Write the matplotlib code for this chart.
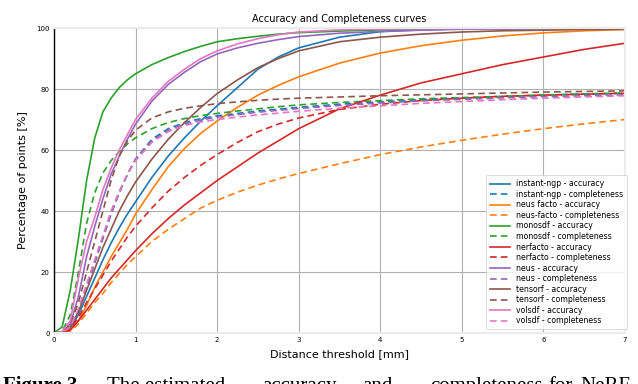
import matplotlib
matplotlib.use("Agg")
import matplotlib.pyplot as plt

# ---------------- data ----------------
thresholds = [0, 0.1, 0.2, 0.3, 0.4, 0.5, 0.6, 0.7, 0.8, 0.9, 1.0, 1.2, 1.4, 1.6, 1.8, 2.0,
              2.25, 2.5, 2.75, 3.0, 3.5, 4.0, 4.5, 5.0, 5.5, 6.0, 6.5, 7.0]

instant_ngp_acc = [0, 0.2, 1.5, 6, 12, 18, 24, 29.5, 34.5, 39, 43, 51, 58, 64, 69.5, 74.5,
                   80.5, 86.5, 90.5, 93.5, 97, 98.8, 99.4, 99.7, 99.8, 99.9, 99.9, 100]
instant_ngp_comp = [0, 0.2, 2, 7, 15, 23, 31, 39, 46, 52, 57, 63.5, 67, 69, 70.3, 71.2,
                    72, 72.8, 73.4, 74, 75, 75.8, 76.5, 77, 77.5, 78, 78.3, 78.6]
neusfacto_acc = [0, 0.1, 1, 4, 9, 15, 20, 25, 29.5, 34, 39, 47, 54.5, 60.5, 65.5, 69.5,
                 74, 78, 81.2, 84, 88.5, 91.8, 94.2, 96, 97.4, 98.4, 99.1, 99.5]
neusfacto_comp = [0, 0, 0.5, 3, 6.5, 10, 13, 16.5, 19.5, 22.5, 25, 30, 34, 37.5, 41, 43.5,
                  46.2, 48.5, 50.5, 52.3, 55.5, 58.5, 61, 63.2, 65.2, 67, 68.6, 70]
monosdf_acc = [0, 2, 14, 31, 50, 64, 72.5, 77, 80.5, 83, 85, 88, 90.3, 92.3, 94, 95.5,
               96.5, 97.3, 98, 98.5, 99, 99.4, 99.6, 99.7, 99.8, 99.9, 99.9, 100]
monosdf_comp = [0, 0.5, 6, 20, 36, 46, 52.5, 56.5, 59.5, 62, 64, 67, 69, 70.3, 71.3, 72,
                72.8, 73.5, 74.2, 74.8, 75.6, 76.2, 76.8, 77.2, 77.6, 78, 78.4, 78.7]
nerfacto_acc = [0, 0.1, 1, 4, 7.5, 11, 14.5, 18, 21, 24, 27, 32.5, 37.5, 42, 46, 50,
                54.5, 59, 63, 67, 73.5, 78, 82, 85, 88, 90.5, 93, 95]
nerfacto_comp = [0, 0.1, 1.5, 5, 10, 14.5, 19, 23.5, 27.5, 31.5, 35, 41, 46.5, 51, 55, 58.5,
                 62.5, 66, 68.5, 70.5, 73.3, 75, 76.2, 77, 77.6, 78, 78.3, 78.6]
neus_acc = [0, 0.3, 3, 12, 25, 35, 44, 52, 58, 63.5, 68.5, 76, 81.5, 85.5, 89, 91.5,
            93.5, 95, 96.2, 97.2, 98.3, 98.9, 99.3, 99.6, 99.7, 99.8, 99.9, 100]
neus_comp = [0, 0.2, 2, 7.5, 15.5, 23.5, 31.5, 39, 46, 52, 57, 63, 66.5, 68.5, 69.8, 70.8,
             71.6, 72.4, 73, 73.6, 74.6, 75.4, 76.1, 76.6, 77.1, 77.5, 77.8, 78.1]
tensorf_acc = [0, 0.2, 2, 7, 14, 21, 28, 34, 40, 45, 49.5, 57, 63.5, 69, 74, 78.5,
               83, 87, 90, 92.5, 95.5, 97, 98, 98.7, 99.1, 99.3, 99.5, 99.6]
tensorf_comp = [0, 0.3, 3, 10, 20, 30, 40, 50, 58, 63, 66.5, 70.5, 72.5, 73.7, 74.5, 75.2,
                75.8, 76.3, 76.7, 77, 77.4, 77.8, 78.1, 78.4, 78.7, 79, 79.2, 79.4]
volsdf_acc = [0, 0.5, 4, 18, 30, 38, 47, 54, 60, 65, 70, 77, 82.5, 86.5, 90, 92.5,
              94.8, 96.5, 97.8, 98.7, 99.4, 99.7, 99.8, 99.9, 99.9, 100, 100, 100]
volsdf_comp = [0, 0.2, 2, 8, 16, 24, 32, 40, 46.5, 52, 56.5, 62.5, 66, 68, 69.2, 70,
               70.8, 71.5, 72.1, 72.7, 73.7, 74.5, 75.3, 75.9, 76.5, 77, 77.4, 77.8]

methods = ["instant-ngp", "neus facto", "monosdf", "nerfacto", "neus", "tensorf", "volsdf"]
comp_names = ["instant-ngp", "neus-facto", "monosdf", "nerfacto", "neus", "tensorf", "volsdf"]
acc_series = [instant_ngp_acc, neusfacto_acc, monosdf_acc, nerfacto_acc, neus_acc, tensorf_acc, volsdf_acc]
comp_series = [instant_ngp_comp, neusfacto_comp, monosdf_comp, nerfacto_comp, neus_comp, tensorf_comp, volsdf_comp]
colors = ["#1f77b4", "#ff7f0e", "#2ca02c", "#d62728", "#9467bd", "#8c564b", "#e377c2"]

x_ticks = [0, 1, 2, 3, 4, 5, 6, 7]
y_ticks = [0, 20, 40, 60, 80, 100]

caption_words = ["The estimated", "accuracy", "and", "completeness", "for", "NeRF"]
caption_x_px = [107, 262, 362, 430, 548, 580]

# ---------------- figure ----------------
W, H = 638, 384
fig = plt.figure(figsize=(W / 100, H / 100), dpi=100)
ax = fig.add_axes([0.0846, 0.1328, 0.8950, 0.7942])

for i in range(len(methods)):
    ax.plot(thresholds, acc_series[i], color=colors[i], lw=1.2, ls='-',
            label=f"{methods[i]} - accuracy")
    ax.plot(thresholds, comp_series[i], color=colors[i], lw=1.2, ls=(0, (4, 2.5)),
            label=f"{comp_names[i]} - completeness")

ax.set_xlim(0, 7)
ax.set_ylim(0, 100)
ax.set_xticks(x_ticks)
ax.set_yticks(y_ticks)
ax.tick_params(labelsize=5, length=0, pad=3)
ax.grid(True, color='#b0b0b0', lw=0.8)
ax.set_axisbelow(True)
for s in ['top', 'right', 'bottom']:
    ax.spines[s].set_color('#ebebeb')
    ax.spines[s].set_linewidth(1.5)
ax.spines['left'].set_color('black')
ax.spines['left'].set_linewidth(1.0)

ax.set_title("Accuracy and Completeness curves", fontsize=7, pad=4)
ax.set_xlabel("Distance threshold [mm]", fontsize=8, labelpad=4)
ax.set_ylabel("Percentage of points [%]", fontsize=8, labelpad=6)

leg = ax.legend(loc='lower right', fontsize=5.6, frameon=True, handlelength=2.6,
                labelspacing=0.2, borderpad=0.5, handletextpad=0.8,
                bbox_to_anchor=(1.004, 0.012), borderaxespad=0)
leg.get_frame().set_edgecolor('#cccccc')
leg.get_frame().set_linewidth(0.6)

# caption (cut off at the bottom edge, as in the reference)
cap_y = (H - 391) / H
fig.text(3 / W, cap_y, "Figure 3.", fontsize=15, family='Liberation Serif',
         fontweight='bold', va='baseline', ha='left')
for word, xp in zip(caption_words, caption_x_px):
    fig.text(xp / W, cap_y, word, fontsize=15, family='Liberation Serif',
             va='baseline', ha='left')

fig.savefig("out.png", dpi=100)
